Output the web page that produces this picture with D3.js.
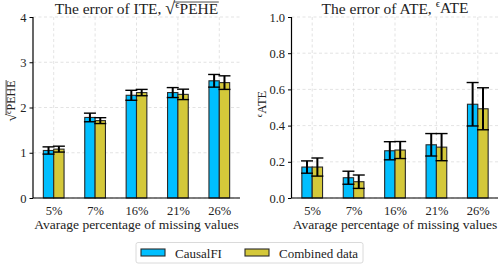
<!DOCTYPE html>
<html>
<head>
<meta charset="utf-8">
<script src="https://cdn.jsdelivr.net/npm/d3@7"></script>
<style>
  body { margin: 0; background: #fff; }
  text { font-family: "Liberation Serif", "DejaVu Serif", serif; fill: #222; }
</style>
</head>
<body>
<div id="chart"></div>
<script>
const categories = ["5%", "7%", "16%", "21%", "26%"];
const seriesNames = ["CausalFI", "Combined data"];

// ITE panel (sqrt eps PEHE)
const iteCausal = [1.05, 1.78, 2.27, 2.33, 2.59];
const iteCausalErr = [0.08, 0.095, 0.11, 0.11, 0.14];
const iteCombined = [1.08, 1.71, 2.33, 2.29, 2.55];
const iteCombinedErr = [0.065, 0.065, 0.07, 0.115, 0.15];
const iteTicks = [0, 1, 2, 3, 4];

// ATE panel (eps ATE)
const ateCausal = [0.171, 0.112, 0.261, 0.294, 0.518];
const ateCausalErr = [0.034, 0.036, 0.05, 0.062, 0.12];
const ateCombined = [0.171, 0.09, 0.265, 0.281, 0.493];
const ateCombinedErr = [0.05, 0.037, 0.047, 0.075, 0.116];
const ateTicks = [0, 0.2, 0.4, 0.6, 0.8, 1.0];

const colors = ["#00bfff", "#d4c83a"];

const svg = d3.select("#chart").append("svg")
  .attr("width", 498)
  .attr("height", 265);

const plotTop = 17, plotBottom = 198;

function panel(opts) {
  const g = svg.append("g");
  const x = d3.scalePoint().domain(categories).range([opts.left, opts.right]).padding(0.5);
  const y = d3.scaleLinear().domain(opts.domain).range([plotBottom, plotTop]);
  const step = x.step();
  const bw = step * 0.25;

  // grid
  g.append("g").selectAll("line").data(opts.ticks).join("line")
    .attr("x1", opts.left).attr("x2", opts.right)
    .attr("y1", d => y(d)).attr("y2", d => y(d))
    .attr("stroke", "#dcdcdc").attr("stroke-dasharray", "3,2.5").attr("stroke-width", 0.8);
  g.append("g").selectAll("line").data(categories).join("line")
    .attr("x1", d => x(d)).attr("x2", d => x(d))
    .attr("y1", plotTop).attr("y2", plotBottom)
    .attr("stroke", "#dcdcdc").attr("stroke-dasharray", "3,2.5").attr("stroke-width", 0.8);

  const series = [
    {vals: opts.a, errs: opts.aErr, off: -bw / 2, color: colors[0]},
    {vals: opts.b, errs: opts.bErr, off: bw / 2, color: colors[1]}
  ];

  series.forEach(s => {
    g.append("g").selectAll("rect").data(categories).join("rect")
      .attr("x", d => x(d) + s.off - bw / 2)
      .attr("width", bw)
      .attr("y", (d, i) => y(s.vals[i]))
      .attr("height", (d, i) => plotBottom - y(s.vals[i]))
      .attr("fill", s.color)
      .attr("stroke", "#2a2a2a")
      .attr("stroke-width", 1.1);
  });

  series.forEach(s => {
    const eg = g.append("g").attr("stroke", "#000");
    categories.forEach((c, i) => {
      const cx = x(c) + s.off;
      const hi = y(s.vals[i] + s.errs[i]), lo = y(s.vals[i] - s.errs[i]);
      eg.append("line").attr("x1", cx).attr("x2", cx).attr("y1", hi).attr("y2", lo).attr("stroke-width", 2);
      eg.append("line").attr("x1", cx - 6).attr("x2", cx + 6).attr("y1", hi).attr("y2", hi).attr("stroke-width", 1.4);
      eg.append("line").attr("x1", cx - 6).attr("x2", cx + 6).attr("y1", lo).attr("y2", lo).attr("stroke-width", 1.4);
    });
  });

  // axes
  const yAxis = g.append("g").attr("transform", `translate(${opts.left},0)`)
    .call(d3.axisLeft(y).tickValues(opts.ticks).tickFormat(opts.fmt).tickSize(3.5).tickPadding(3));
  yAxis.select(".domain").attr("stroke-width", 1.2).attr("d", `M0,${plotBottom}V${plotTop}`);
  yAxis.selectAll("text").attr("font-size", 12.5).style("font-family", "Liberation Serif");

  const xAxis = g.append("g").attr("transform", `translate(0,${plotBottom})`)
    .call(d3.axisBottom(x).tickSize(0).tickPadding(8));
  xAxis.select(".domain").attr("stroke-width", 1.2).attr("d", `M${opts.left},0H${opts.right}`);
  xAxis.selectAll("text").attr("font-size", 12.5).style("font-family", "Liberation Serif");

  const cx = (opts.left + opts.right) / 2;
  g.append("text").attr("x", cx).attr("y", 229).attr("text-anchor", "middle")
    .attr("font-size", 13.5).text("Avarage percentage of missing values");

  return {g, cx};
}

const p1 = panel({left: 33, right: 240, domain: [0, 4], ticks: iteTicks, fmt: d3.format("d"),
  a: iteCausal, aErr: iteCausalErr, b: iteCombined, bErr: iteCombinedErr});
const p2 = panel({left: 291.5, right: 498.5, domain: [0, 1], ticks: ateTicks, fmt: d3.format(".1f"),
  a: ateCausal, aErr: ateCausalErr, b: ateCombined, bErr: ateCombinedErr});

// titles with math: prefix, optional radical, small raised epsilon, subscript word
function mathLabel(parent, x, y, prefix, sub, sqrt, size, rotate) {
  const tr = `translate(${x},${y})` + (rotate ? " rotate(-90)" : "");
  const t = parent.append("text").attr("font-size", size).attr("text-anchor", "middle")
    .attr("transform", tr);
  if (prefix) t.append("tspan").text(prefix);
  if (sqrt) t.append("tspan").attr("font-size", size * 1.15).attr("dy", size * 0.06).text("\u221A");
  t.append("tspan").attr("font-size", size * 0.7).attr("dy", -size * 0.4).text("\u03F5");
  t.append("tspan").attr("dy", size * 0.34).text(sub);
  if (sqrt) {
    const n = t.node();
    const nChars = n.getNumberOfChars();
    const radEnd = n.getEndPositionOfChar(nChars - sub.length - 2);
    const end = n.getEndPositionOfChar(nChars - 1);
    const ly = -size * 0.74;
    parent.append("line")
      .attr("transform", tr)
      .attr("x1", radEnd.x - 1.2).attr("x2", end.x + 0.5)
      .attr("y1", ly).attr("y2", ly)
      .attr("stroke", "#222").attr("stroke-width", 0.8);
  }
  return t;
}

mathLabel(svg, p1.cx, 13.5, "The error of ITE, ", "PEHE", true, 15.5, false);
mathLabel(svg, p2.cx, 13.5, "The error of ATE, ", "ATE", false, 15.5, false);
mathLabel(svg, 15, 101, "", "PEHE", true, 12, true);
mathLabel(svg, 267, 104, "", "ATE", false, 12.5, true);

// legend
const lg = svg.append("g");
lg.append("rect").attr("x", 136).attr("y", 242.5).attr("width", 227).attr("height", 20.5)
  .attr("rx", 2).attr("fill", "#fff").attr("stroke", "#d0d0d0").attr("stroke-width", 0.8);
const legendX = [141, 245];
seriesNames.forEach((name, i) => {
  lg.append("rect").attr("x", legendX[i]).attr("y", 249).attr("width", 24).attr("height", 7)
    .attr("fill", colors[i]).attr("stroke", "#2a2a2a").attr("stroke-width", 1.1);
  lg.append("text").attr("x", legendX[i] + 34).attr("y", 257.5).attr("font-size", 13).text(name);
});
</script>
</body>
</html>
